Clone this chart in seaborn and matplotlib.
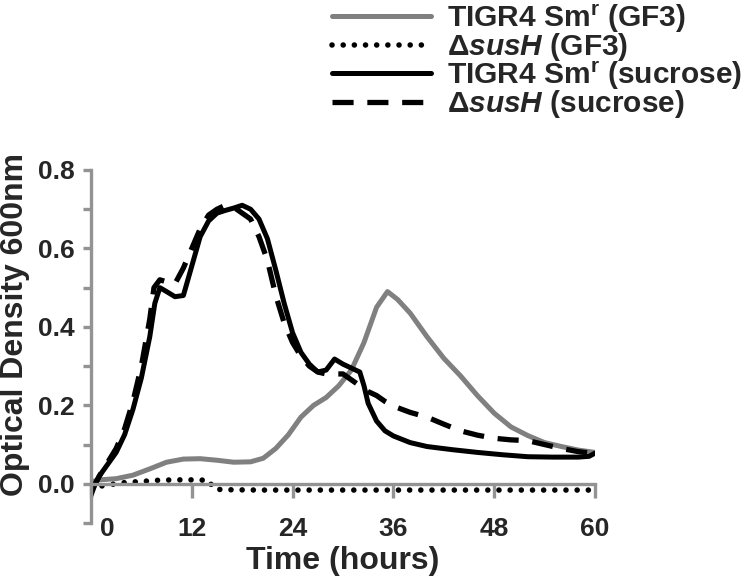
import matplotlib
matplotlib.use("Agg")
import matplotlib.pyplot as plt
import matplotlib.transforms as mtransforms
import seaborn as sns
import numpy as np

# growth curves (time in hours, OD600)
t_wt_gf3 = [0, 1, 3, 5, 7, 9, 11, 13, 15, 17, 19, 20.5, 22, 23.5, 25, 26.5, 28, 29.5,
            31, 32.5, 34, 35.3, 36.5, 38, 40, 42, 44, 46, 48, 50, 52, 54, 56, 58, 60]
od_wt_gf3 = [0.005, 0.01, 0.013, 0.022, 0.038, 0.055, 0.063, 0.064, 0.06, 0.055, 0.056, 0.065,
             0.09, 0.125, 0.17, 0.2, 0.22, 0.25, 0.29, 0.36, 0.45, 0.49, 0.47, 0.435, 0.375,
             0.32, 0.275, 0.225, 0.18, 0.145, 0.123, 0.105, 0.095, 0.086, 0.08]

t_sus_gf3 = [0, 2, 4, 6, 8, 10, 12, 14, 14.6, 15.5, 20, 30, 40, 50, 60]
od_sus_gf3 = [-0.01, -0.003, 0.003, 0.006, 0.009, 0.01, 0.01, 0.009, -0.012, -0.015,
              -0.016, -0.016, -0.016, -0.016, -0.016]

t_wt_suc = [0, 0.5, 1, 2, 3, 4, 5, 6, 7, 7.6, 8.2, 9, 10, 11, 12, 13, 14, 15, 16, 17, 18,
            19, 20, 21, 22, 23, 24, 25, 26, 27, 28, 29, 30, 31, 32, 32.5, 33, 34, 35, 36,
            38, 40, 43, 46, 49, 52, 55, 58, 59.3, 60]
od_wt_suc = [-0.03, 0.0, 0.02, 0.05, 0.08, 0.125, 0.19, 0.27, 0.375, 0.46, 0.5, 0.49, 0.477,
             0.48, 0.555, 0.63, 0.67, 0.69, 0.697, 0.703, 0.71, 0.7, 0.675, 0.625, 0.545,
             0.46, 0.385, 0.335, 0.305, 0.285, 0.29, 0.318, 0.305, 0.295, 0.285, 0.25, 0.205,
             0.16, 0.135, 0.122, 0.105, 0.095, 0.087, 0.08, 0.074, 0.069, 0.068, 0.068, 0.07, 0.078]

t_sus_suc = [0, 1, 2, 3, 4, 5, 6, 7, 7.5, 8.2, 9, 10, 11, 12, 13, 14, 15, 16, 17, 18, 19,
             20, 21, 22, 23, 24, 25, 26, 27, 28, 29, 30, 31, 32, 33, 34, 35, 36, 38, 40, 42,
             44, 46, 48, 50, 52, 54, 56, 58, 60]
od_sus_suc = [-0.02, 0.02, 0.055, 0.09, 0.14, 0.21, 0.3, 0.42, 0.5, 0.52, 0.515, 0.51, 0.55,
              0.6, 0.65, 0.685, 0.7, 0.71, 0.705, 0.69, 0.675, 0.63, 0.57, 0.48, 0.41, 0.36,
              0.325, 0.3, 0.285, 0.28, 0.28, 0.28, 0.265, 0.25, 0.235, 0.225, 0.21, 0.198,
              0.182, 0.17, 0.152, 0.135, 0.124, 0.116, 0.112, 0.11, 0.1, 0.09, 0.082, 0.077]

labels = ['TIGR4 Sm$^{\\mathrm{r}}$ (GF3)',
          'Δ$\\mathit{susH}$ (GF3)',
          'TIGR4 Sm$^{\\mathrm{r}}$ (sucrose)',
          'Δ$\\mathit{susH}$ (sucrose)']

sns.set_style('ticks')
plt.rcParams['font.family'] = ['Liberation Sans', 'DejaVu Sans']
plt.rcParams['font.weight'] = 'bold'
plt.rcParams['mathtext.fontset'] = 'custom'
plt.rcParams['mathtext.rm'] = 'Liberation Sans:bold'
plt.rcParams['mathtext.it'] = 'Liberation Sans:bold:italic'
plt.rcParams['mathtext.bf'] = 'Liberation Sans:bold'

axis_grey = '#939393'

fig = plt.figure(figsize=(7.5, 5.79), dpi=100)
ax = fig.add_axes([0.1213, 0.0967, 0.672, 0.6097])

sns.lineplot(x=t_wt_gf3, y=od_wt_gf3, ax=ax, color='#808080', lw=3.6, label=labels[0])
sns.lineplot(x=t_sus_gf3, y=od_sus_gf3, ax=ax, color='black', lw=4.0,
             linestyle=(0, (0.01, 2.0)), dash_capstyle='round', label=labels[1])
sns.lineplot(x=t_wt_suc, y=od_wt_suc, ax=ax, color='black', lw=3.6, label=labels[2])
sns.lineplot(x=t_sus_suc, y=od_sus_suc, ax=ax, color='black', lw=3.8,
             linestyle=(0, (4, 2.6)), label=labels[3])

ax.set_xlim(0, 60)
ax.set_ylim(-0.1, 0.8)
ax.set_xticks([0, 12, 24, 36, 48, 60])
ax.set_yticks([0.0, 0.2, 0.4, 0.6, 0.8])
ax.set_yticks([-0.1, 0.1, 0.3, 0.5, 0.7], minor=True)
ax.yaxis.set_major_formatter(matplotlib.ticker.FormatStrFormatter('%.1f'))

for side in ['top', 'right']:
    ax.spines[side].set_visible(False)
ax.spines['bottom'].set_position(('data', 0))
for side in ['left', 'bottom']:
    ax.spines[side].set_color(axis_grey)
    ax.spines[side].set_linewidth(2.4)

ax.tick_params(axis='y', which='both', length=6, width=2.4, color=axis_grey,
               labelsize=19, pad=6)
ax.tick_params(axis='x', which='major', length=10, width=2.4, color=axis_grey,
               labelsize=19, pad=14)
for lab in ax.get_xticklabels() + ax.get_yticklabels():
    lab.set_fontweight('bold')

# first x label sits a little right of the y axis
first = ax.get_xticklabels()[0]
first.set_transform(first.get_transform() +
                    mtransforms.ScaledTranslation(16 / 100, 0, fig.dpi_scale_trans))

ax.set_xlabel('Time (hours)', fontsize=23, fontweight='bold')
ax.xaxis.set_label_coords(0.5, -0.065)
ax.set_ylabel('Optical Density 600nm', fontsize=23, fontweight='bold')
ax.yaxis.set_label_coords(-0.121, 0.561)

handles, labs = ax.get_legend_handles_labels()
ax.get_legend().remove()
fig.legend(handles, labs, loc='upper right', bbox_to_anchor=(1.01, 1.022),
           frameon=False, fontsize=21.5, labelspacing=-0.12, handlelength=3.3,
           handletextpad=0.55, borderaxespad=0.1)

fig.savefig('out.png', dpi=100)
